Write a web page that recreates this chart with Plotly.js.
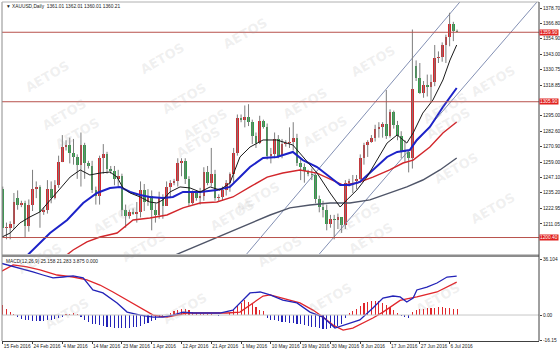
<!DOCTYPE html>
<html><head><meta charset="utf-8">
<script src="https://cdn.plot.ly/plotly-3.0.1.min.js"></script>
<style>html,body{margin:0;padding:0;background:#fff;}#chart{width:560px;height:351px;}</style>
</head><body><div id="chart"></div>
<script>
// ---- Candles (bar index 0 = 15 Feb 2016, includes Sunday bars) ----
const barOpen  = [1238,1208,1208,1211,1231,1226,1227,1209,1226,1238,1240,1220,1222,1238,1231,1241,1259,1271,1272,1266,1263,1257,1272,1258,1256,1237,1233,1262,1265,1254,1252,1246,1248,1222,1217,1220,1219,1220,1237,1228,1233,1222,1218,1232,1225,1240,1243,1244,1258,1260,1246,1227,1235,1231,1233,1251,1243,1250,1231,1232,1237,1243,1250,1266,1293,1292,1294,1290,1279,1274,1291,1286,1264,1265,1277,1264,1273,1274,1275,1278,1258,1255,1252,1250,1249,1230,1224,1222,1211,1215,1214,1216,1210,1243,1244,1244,1246,1262,1272,1275,1278,1285,1286,1289,1279,1298,1288,1279,1268,1267,1262,1334,1324,1313,1319,1317,1321,1340,1341,1350,1356,1366,1361.01];
const barHigh  = [1240,1212,1213,1235,1237,1229,1229,1230,1253,1244,1241,1224,1245,1244,1245,1264,1280,1276,1278,1277,1265,1282,1274,1260,1260,1240,1264,1273,1267,1256,1256,1253,1250,1226,1222,1223,1228,1244,1242,1238,1237,1227,1236,1234,1244,1245,1246,1262,1262,1262,1248,1237,1236,1239,1255,1256,1270,1253,1234,1240,1245,1251,1270,1296,1296,1303,1304,1292,1282,1295,1292,1289,1270,1282,1280,1277,1276,1286,1290,1281,1262,1258,1253,1254,1250,1233,1229,1226,1218,1218,1219,1216,1245,1246,1249,1249,1265,1274,1276,1280,1288,1290,1290,1315,1300,1299,1291,1283,1276,1268,1362,1338,1336,1322,1327,1327,1350,1345,1352,1358,1375,1368,1362.01];
const barLow   = [1201,1199,1199,1207,1222,1224,1200,1205,1221,1231,1208,1218,1219,1227,1230,1239,1259,1268,1258,1257,1246,1240,1246,1254,1235,1226,1226,1250,1250,1250,1241,1239,1217,1208,1215,1218,1212,1216,1221,1225,1206,1212,1215,1215,1225,1231,1241,1240,1248,1242,1225,1226,1229,1226,1229,1241,1240,1229,1228,1229,1233,1236,1243,1264,1290,1286,1287,1273,1270,1273,1285,1261,1258,1262,1262,1262,1271,1270,1268,1256,1245,1243,1248,1245,1227,1220,1216,1206,1208,1199,1207,1204,1207,1240,1235,1238,1245,1257,1263,1274,1275,1278,1278,1277,1278,1285,1276,1262,1259,1251,1254,1322,1312,1309,1310,1306,1318,1336,1337,1336,1349,1353,1360.01];
const barClose = [1208,1208,1211,1228,1226,1227,1209,1226,1238,1240,1220,1222,1238,1231,1241,1259,1271,1272,1266,1263,1257,1272,1258,1256,1237,1233,1262,1265,1254,1252,1246,1248,1222,1217,1220,1219,1220,1237,1228,1233,1222,1218,1232,1225,1240,1243,1244,1258,1260,1246,1227,1235,1231,1233,1251,1243,1250,1231,1232,1237,1243,1250,1266,1293,1292,1294,1290,1279,1274,1291,1286,1264,1265,1277,1264,1273,1274,1275,1278,1258,1255,1252,1250,1249,1230,1224,1222,1211,1215,1214,1216,1210,1243,1244,1244,1246,1262,1272,1275,1278,1285,1286,1289,1279,1298,1288,1279,1268,1267,1262,1316,1324,1313,1319,1317,1321,1340,1341,1350,1356,1366,1361,1360.21];

// ---- Date axis ----
const dateTickIdx = [0,8,16,24,32,40,48,56,64,72,80,88,96,104,112,120];
const dateLabels = ["15 Feb 2016","24 Feb 2016","4 Mar 2016","14 Mar 2016","23 Mar 2016","1 Apr 2016","12 Apr 2016","21 Apr 2016","1 May 2016","10 May 2016","19 May 2016","30 May 2016","8 Jun 2016","17 Jun 2016","27 Jun 2016","6 Jul 2016"];

// ---- Price axis ----
const priceTicks = [1378.70,1366.80,1354.90,1343.00,1330.75,1318.85,1295.00,1282.60,1270.90,1259.00,1247.10,1235.20,1222.95,1211.05,1187.25];
const priceTickText = ["1378.70","1366.80","1354.90","1343.00","1330.75","1318.85","1295.00","1282.60","1270.90","1259.00","1247.10","1235.20","1222.95","1211.05","1187.25"];
const levelPrices = [1359.90, 1305.90, 1200.40];
const levelText = ["1359.90","1305.90","1200.40"];

// ---- Moving averages ----
const maBlackX = [-0.7,2.0,4.6,7.3,10.0,12.7,15.4,18.1,20.8,23.4,26.1,28.8,30.7,32.3,34.2,36.9,39.5,41.4,43.0,44.9,47.6,50.3,53.0,55.7,58.3,61.0,63.7,66.4,69.9,73.6,77.9,80.6,84.4,87.9,90.6,92.4,95.1,97.8,100.5,103.2,105.9,108.5,110.2,112.8,115.5,118.2,120.1,121.9];
const maBlackY = [1200.1,1203.9,1211.7,1216.4,1220.3,1229.6,1238.9,1247.4,1252.9,1249.0,1250.5,1251.3,1247.4,1238.9,1235.0,1231.9,1228.0,1227.2,1229.6,1235.8,1239.7,1238.9,1235.8,1239.7,1237.3,1242.8,1263.0,1270.7,1276.2,1276.2,1272.3,1263.0,1250.5,1235.0,1224.1,1229.6,1237.3,1247.4,1260.6,1273.8,1280.1,1273.8,1281.6,1297.1,1307.2,1322.8,1338.3,1350.0];
const maBlueX = [5.0,8.1,12.7,17.3,21.6,25.3,28.8,31.5,34.2,36.9,39.5,43.0,45.7,48.4,53.0,57.5,61.0,63.7,66.4,69.9,73.6,77.9,80.6,84.4,87.9,90.6,93.2,95.9,99.4,103.2,105.9,109.3,111.2,114.7,118.2,121.9];
const maBlueY = [1182.0,1190.7,1203.9,1214.0,1227.2,1235.0,1238.9,1239.7,1235.8,1233.5,1231.9,1231.1,1231.9,1235.8,1235.8,1237.3,1239.7,1247.4,1255.2,1262.2,1263.0,1266.9,1260.6,1255.2,1247.4,1241.2,1241.2,1243.6,1252.9,1263.0,1266.9,1268.4,1276.2,1286.3,1301.8,1316.6];
const maRedX = [15.0,18.9,22.6,26.1,30.7,35.0,39.5,44.1,48.4,53.0,57.5,61.8,66.4,71.0,75.2,79.8,84.4,88.7,91.4,95.1,99.4,103.9,107.5,110.2,114.7,118.2,121.9];
const maRedY = [1182.0,1190.7,1197.0,1200.8,1203.9,1214.0,1215.6,1217.9,1223.4,1227.2,1228.0,1231.9,1239.7,1247.4,1250.5,1252.9,1250.5,1245.1,1241.2,1242.8,1247.4,1252.9,1258.3,1260.6,1270.7,1281.6,1290.2];
const maGrayX = [44.0,49.5,54.8,60.2,66.4,71.8,77.1,82.5,87.9,93.2,98.6,103.9,108.5,112.8,117.4,121.9];
const maGrayY = [1184.0,1190.7,1197.0,1203.9,1211.7,1217.9,1223.4,1225.7,1227.2,1227.2,1229.6,1235.0,1239.7,1245.1,1252.9,1262.2];

// ---- Channel lines ----
const chanUpX = [64.6, 124.0], chanUpY = [1184.5, 1387.7];
const chanLoX = [84.0, 144.5], chanLoY = [1184.2, 1386.9];

// ---- MACD(12,26,9) ----
const macdX = [-0.7,4.6,8.1,10.8,13.5,16.2,18.9,21.6,24.2,26.9,30.7,33.4,36.9,40.4,43.0,45.7,48.4,51.1,54.8,58.3,61.8,64.5,66.4,69.1,71.8,75.2,79.0,82.5,86.0,89.2,91.9,95.9,99.4,102.1,104.8,106.7,108.5,110.2,111.2,113.9,116.6,119.3,121.9];
const macdY = [33.7,30.5,27.9,25.9,24.0,24.6,25.3,24.0,16.2,14.3,7.8,1.9,0.0,-1.3,-1.3,0.0,1.9,1.3,1.3,1.3,3.2,9.7,14.3,14.9,13.0,9.7,7.8,1.9,-1.3,-8.4,-6.5,-3.2,4.5,11.0,12.3,11.7,8.4,11.0,16.2,18.1,20.7,24.6,25.16];
const signalX = [-0.7,2.8,6.5,10.0,14.6,18.9,22.6,26.1,29.6,33.4,36.9,40.4,44.1,49.5,54.8,60.2,63.7,66.4,69.9,71.8,75.2,79.8,83.3,86.0,88.7,91.4,94.0,96.7,99.4,102.1,106.7,108.5,111.2,116.6,121.9];
const signalY = [27.9,32.4,31.1,29.2,25.9,24.6,22.7,19.4,14.9,9.7,5.2,0.0,-1.3,1.3,1.3,1.3,1.9,6.5,12.3,13.0,11.0,7.8,3.2,-1.3,-6.5,-9.7,-8.4,-5.2,-1.9,1.9,9.5,10.5,11.7,14.9,21.28];
const osma = [6.5,4.0,2.0,0.8,-1.0,-2.5,-3.0,-3.5,-3.8,-4.0,-4.0,-3.8,-3.5,-3.0,-2.5,-2.0,-1.2,0.6,0.9,1.0,0.6,-1.0,-3.0,-4.5,-5.5,-6.0,-6.5,-7.0,-7.5,-8.0,-8.3,-8.5,-8.5,-8.5,-8.3,-8.0,-7.5,-6.8,-6.0,-5.0,-4.0,-3.0,-1.5,-0.3,0.3,1.2,2.5,3.5,4.2,4.0,3.2,2.0,1.2,0.6,0.5,0.4,0.8,0.2,-0.3,-0.2,0.3,1.0,3.0,6.0,8.0,9.5,8.5,7.0,5.0,3.5,2.5,-2.0,-3.0,-3.5,-4.0,-4.5,-4.5,-5.0,-5.0,-5.5,-6.0,-6.5,-7.0,-7.5,-8.0,-8.5,-9.0,-9.0,-8.5,-8.0,-7.0,-5.5,-2.0,1.0,2.5,4.0,6.0,7.5,8.5,9.0,9.2,8.8,8.0,6.5,5.0,3.5,1.5,-0.5,-1.5,-2.0,2.0,3.5,4.0,4.2,4.3,4.5,4.8,5.0,5.0,4.8,4.5,4.0,3.875];
const macdTicks = [36.104, 0, -16.15];
const macdTickText = ["36.104","0.00","-16.15"];

// ---- Texts ----
const headerText = "\u25BC XAUUSD,Daily  1361.01 1362.01 1360.01 1360.21";
const macdHeader = "MACD(12,26,9) 25.158 21.283 3.875 0.000";
const watermark = "AETOS";
const wmPix = [[20,55],[135,37],[245,12],[37,93],[157,77],[178,103],[305,82],[325,110],[400,40],[472,87],[475,123],[50,133],[198,142],[258,198],[88,218],[232,215],[385,218],[483,168],[13,280],[117,268],[280,273],[398,260],[520,230],[40,335],[185,330],[330,320],[465,320],[520,60]];

// ---- Build ----
const idx = barClose.map((_, i) => i);
const wickX = [], wickY = [];
idx.forEach(i => { wickX.push(i, i, null); wickY.push(barLow[i], barHigh[i], null); });
const bodyBase = idx.map(i => Math.min(barOpen[i], barClose[i]));
const bodyH = idx.map(i => Math.max(Math.abs(barClose[i] - barOpen[i]), 0.7));
const bodyCol = idx.map(i => barClose[i] >= barOpen[i] ? '#d8262b' : '#2f9e48');
const osmaCol = osma.map(v => v >= 0 ? '#e0262b' : '#2323b8');

const FONT = 'Liberation Sans, Arial, sans-serif';
const px = x => (x - 2) / 537;
const py = y => (341 - y) / 339;

const traces = [
  {type:'scatter', mode:'lines', x:chanUpX, y:chanUpY, line:{color:'#8390b4', width:1}, yaxis:'y'},
  {type:'scatter', mode:'lines', x:chanLoX, y:chanLoY, line:{color:'#8390b4', width:1}, yaxis:'y'},
  {type:'scatter', mode:'lines', x:wickX, y:wickY, line:{color:'#7d7d7d', width:1}, connectgaps:false, yaxis:'y'},
  {type:'bar', x:idx, y:bodyH, base:bodyBase, width:0.72, marker:{color:bodyCol, line:{width:0}}, yaxis:'y'},
  {type:'scatter', mode:'lines', x:maGrayX, y:maGrayY, line:{color:'#4f5568', width:1.4}, yaxis:'y'},
  {type:'scatter', mode:'lines', x:maRedX, y:maRedY, line:{color:'#d2262b', width:1.4}, yaxis:'y'},
  {type:'scatter', mode:'lines', x:maBlueX, y:maBlueY, line:{color:'#1c22c8', width:2}, yaxis:'y'},
  {type:'scatter', mode:'lines', x:maBlackX, y:maBlackY, line:{color:'#1a1a1a', width:1}, yaxis:'y'},
  {type:'bar', x:idx, y:osma, width:0.3, marker:{color:osmaCol, line:{width:0}}, yaxis:'y2'},
  {type:'scatter', mode:'lines', x:signalX, y:signalY, line:{color:'#e0262b', width:1.3}, yaxis:'y2'},
  {type:'scatter', mode:'lines', x:macdX, y:macdY, line:{color:'#2323b8', width:1.3}, yaxis:'y2'}
];

const shapes = [];
levelPrices.forEach(p => shapes.push({type:'line', xref:'paper', x0:0, x1:1, yref:'y', y0:p, y1:p, line:{color:'#b8524c', width:1}}));
shapes.push({type:'line', xref:'paper', yref:'y2', x0:0, x1:1, y0:0, y1:0, line:{color:'#c8c8c8', width:1}});
shapes.push({type:'rect', xref:'paper', yref:'paper', x0:0, x1:1, y0:py(257), y1:py(254.5), fillcolor:'#8c8c8c', line:{width:0}});
shapes.push({type:'line', xref:'paper', yref:'paper', x0:0, x1:0, y0:0, y1:1, line:{color:'#8c8c8c', width:1}});
shapes.push({type:'line', xref:'paper', yref:'paper', x0:0, x1:1, y0:1, y1:1, line:{color:'#b0b0b0', width:1}});
shapes.push({type:'line', xref:'paper', yref:'paper', x0:1, x1:1, y0:0, y1:1, line:{color:'#404040', width:1}});

const annotations = [];
wmPix.forEach(p => annotations.push({xref:'paper', yref:'paper', x:px(p[0]), y:py(p[1]), text:watermark, showarrow:false, textangle:-30, font:{family:'DejaVu Sans, sans-serif', size:13, color:'rgba(160,160,160,0.17)', weight:'bold'}}));
levelPrices.forEach((p, i) => annotations.push({xref:'paper', yref:'y', x:1, xanchor:'left', xshift:0, y:p, text:levelText[i], showarrow:false, bgcolor:'#e0201e', borderpad:0, font:{family:FONT, size:4.8, color:'#ffffff'}}));
annotations.push({xref:'paper', yref:'paper', x:px(4), y:py(6), xanchor:'left', yanchor:'middle', text:headerText, showarrow:false, font:{family:FONT, size:4.8, color:'#202020'}});
annotations.push({xref:'paper', yref:'paper', x:px(4), y:py(261), xanchor:'left', yanchor:'middle', text:macdHeader, showarrow:false, font:{family:FONT, size:4.8, color:'#202020'}});

const layout = {
  width:560, height:351,
  margin:{l:2, r:21, t:2, b:10, pad:0},
  paper_bgcolor:'#ffffff', plot_bgcolor:'#ffffff',
  showlegend:false, barmode:'overlay', bargap:0,
  xaxis:{range:[-0.2, 144], anchor:'y2', tickmode:'array', tickvals:dateTickIdx, ticktext:dateLabels,
         tickangle:0, ticklabelposition:'outside right', ticks:'outside', ticklen:2, tickcolor:'#404040',
         tickfont:{family:FONT, size:4.8, color:'#202020'}, showgrid:false, zeroline:false,
         showline:true, linecolor:'#404040', linewidth:1, fixedrange:true},
  yaxis:{domain:[py(254), 1], range:[1187.6, 1383.4], side:'right', tickmode:'array', tickvals:priceTicks, ticktext:priceTickText,
         ticks:'outside', ticklen:2, tickcolor:'#404040', tickfont:{family:FONT, size:4.8, color:'#202020'},
         showgrid:false, zeroline:false, showline:false},
  yaxis2:{domain:[0, py(258)], range:[-16.8, 36.9], side:'right', tickmode:'array', tickvals:macdTicks, ticktext:macdTickText,
         ticks:'outside', ticklen:2, tickcolor:'#404040', tickfont:{family:FONT, size:4.8, color:'#202020'},
         showgrid:false, zeroline:false, showline:false},
  shapes:shapes, annotations:annotations
};

Plotly.newPlot('chart', traces, layout, {staticPlot:true, displayModeBar:false});
</script></body></html>
